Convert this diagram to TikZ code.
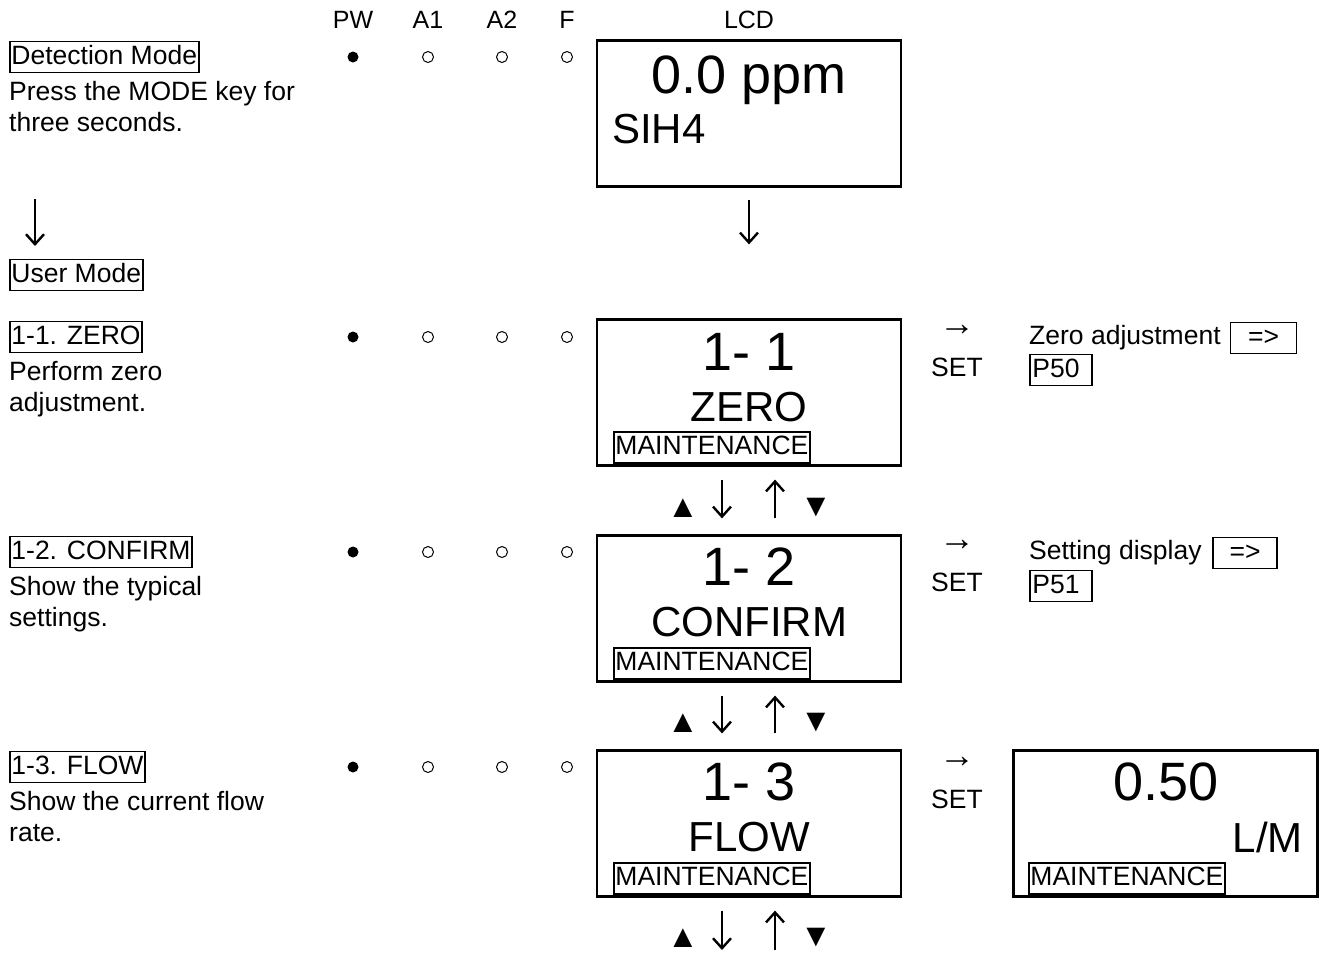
\documentclass[tikz,border=0pt]{standalone}
\usepackage{fontspec}
\setmainfont{Liberation Sans}
\usetikzlibrary{positioning, arrows.meta}

\tikzstyle{lcd} = [
    rectangle,
    line width=2.2pt,
    minimum width=304pt,
    minimum height=146pt,
    draw=black
]
\tikzstyle{tag} = [
    rectangle,
    line width=1.9pt,
    inner xsep=1.5pt,
    inner ysep=0pt,
    text height=20pt,
    text depth=6pt,
    minimum height=31pt,
    draw=black,
    font=\fontsize{26.5}{31}\selectfont
]
\tikzstyle{txt} = [inner sep=0pt, align=left, font=\fontsize{26.5}{31}\selectfont]
\tikzstyle{big} = [inner sep=0pt, font=\fontsize{54}{60}\selectfont]
\tikzstyle{mid} = [inner sep=0pt, font=\fontsize{42}{48}\selectfont]
\tikzstyle{lamp} = [circle, inner sep=0pt, minimum size=11pt]
\tikzstyle{arrow} = [line width=2.4pt, -{Straight Barb[length=10pt,width=18pt]}]

\begin{document}
\begin{tikzpicture}[x=1pt, y=-1pt]
\useasboundingbox (0,0) rectangle (1326,956);

% header
\node (hpw) [txt, font=\fontsize{25}{30}\selectfont] at (353,20) {PW};
\node (ha1) [txt, font=\fontsize{25}{30}\selectfont] at (428,20) {A1};
\node (ha2) [txt, font=\fontsize{25}{30}\selectfont] at (502,20) {A2};
\node (hf)  [txt, font=\fontsize{25}{30}\selectfont] at (567,20) {F};
\node (hlcd) [txt, font=\fontsize{25}{30}\selectfont] at (749,20) {LCD};

% lamps
\foreach \y in {57,337,552,767} {
    \node [lamp, fill=black] at (353,\y) {};
    \node [lamp, draw=black, line width=1pt] at (428,\y) {};
    \node [lamp, draw=black, line width=1pt] at (502,\y) {};
    \node [lamp, draw=black, line width=1pt] at (567,\y) {};
}

% left column
\node (detect) [tag, anchor=west] at (9,57) {Detection Mode};
\node (detectdesc) [txt, anchor=north west] at (9,81)
{Press the MODE key for\\three seconds.};
\node (user) [tag, anchor=west] at (9,275) {User Mode};
\node (zero) [tag, anchor=west] at (9,337) {1-1. ZERO};
\node (zerodesc) [txt, anchor=north west] at (9,361)
{Perform zero\\adjustment.};
\node (confirm) [tag, anchor=west] at (9,552) {1-2. CONFIRM};
\node (confirmdesc) [txt, anchor=north west] at (9,576)
{Show the typical\\settings.};
\node (flow) [tag, anchor=west] at (9,767) {1-3. FLOW};
\node (flowdesc) [txt, anchor=north west] at (9,791)
{Show the current flow\\rate.};

\coordinate (modefrom) at (35,199);
\coordinate (modeto) at (35,246);
\draw [arrow] (modefrom) -- (modeto);

% LCD screens
\node (lcd0) [lcd] at (749,113.5) {};
\node (ppm) [big, anchor=base] at (749,93) {0.0 ppm};
\node (gas) [mid, anchor=base west] at (612,143) {SIH4};

\node (lcd1) [lcd] at (749,392.5) {};
\node (num1) [big] at (749,352) {1- 1};
\node (name1) [mid] at (749,407) {ZERO};
\node (maint1) [tag, anchor=south west] at (613,464) {MAINTENANCE};

\node (lcd2) [lcd] at (749,608.5) {};
\node (num2) [big] at (749,567) {1- 2};
\node (name2) [mid] at (749,622) {CONFIRM};
\node (maint2) [tag, anchor=south west] at (613,680) {MAINTENANCE};

\node (lcd3) [lcd] at (749,823.5) {};
\node (num3) [big] at (749,782) {1- 3};
\node (name3) [mid] at (749,837) {FLOW};
\node (maint3) [tag, anchor=south west] at (613,895) {MAINTENANCE};

\node (lcdflow) [lcd] at (1165.5,823.5) {};
\node (rate) [big] at (1166,782) {0.50};
\node (unit) [mid, anchor=base east] at (1303,852) {L/M};
\node (maint4) [tag, anchor=south west] at (1028,895) {MAINTENANCE};

\coordinate (lcdnext) at (749,966);

% key arrows
\draw [arrow] ([yshift=-12pt]lcd0.south) -- ([yshift=74pt]lcd1.north);
\draw [arrow] ([xshift=-27pt,yshift=-13pt]lcd1.south) -- ([xshift=-27pt,yshift=16pt]lcd2.north);
\draw [arrow] ([xshift=26pt,yshift=16pt]lcd2.north) -- ([xshift=26pt,yshift=-13pt]lcd1.south);
\draw [arrow] ([xshift=-27pt,yshift=-13pt]lcd2.south) -- ([xshift=-27pt,yshift=16pt]lcd3.north);
\draw [arrow] ([xshift=26pt,yshift=16pt]lcd3.north) -- ([xshift=26pt,yshift=-13pt]lcd2.south);
\draw [arrow] ([xshift=-27pt,yshift=-13pt]lcd3.south) -- ([xshift=-27pt,yshift=16pt]lcdnext);
\draw [arrow] ([xshift=26pt,yshift=16pt]lcdnext) -- ([xshift=26pt,yshift=-13pt]lcd3.south);

\foreach \y in {508,723,938} {
    \node [inner sep=0pt, font=\fontsize{32}{34}\selectfont] at (683,\y) {▲};
    \node [inner sep=0pt, font=\fontsize{32}{34}\selectfont] at (816,\y) {▼};
}

% SET keys
\foreach \y/\n in {330/1,545/2,762/3} {
    \node (setarrow\n) [inner sep=0pt, font=\fontsize{36}{36}\selectfont] at (957,\y) {→};
    \node (set\n) [txt] at (957,\y+37) {SET};
}

% references
\node (zeroadj) [txt, anchor=west] at (1029,338) {Zero adjustment};
\node (zerogo) [tag, minimum width=66pt] at (1263.5,338) {=>};
\node (p50) [tag, anchor=west, minimum width=62pt, text width=57pt] at (1029,370) {P50};
\node (setdisp) [txt, anchor=west] at (1029,553) {Setting display};
\node (setgo) [tag, minimum width=64pt] at (1245,553) {=>};
\node (p51) [tag, anchor=west, minimum width=62pt, text width=57pt] at (1029,586) {P51};

\end{tikzpicture}
\end{document}
